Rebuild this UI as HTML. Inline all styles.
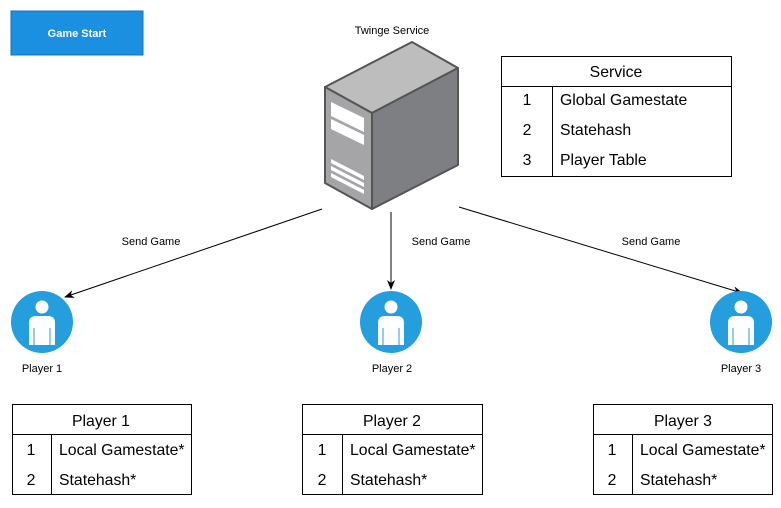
<!DOCTYPE html>
<html><head><style>
body{margin:0;background:#fff;width:781px;height:503px;overflow:hidden;font-family:"Liberation Sans",sans-serif}
</style></head><body>
<svg width="781" height="503" xmlns="http://www.w3.org/2000/svg" font-family="Liberation Sans, sans-serif">
<defs><marker id="a" markerWidth="10" markerHeight="8" refX="9" refY="4" orient="auto" markerUnits="userSpaceOnUse"><path d="M0,0 L10,4 L0,8 L3,4 Z" fill="#000"/></marker></defs>
<rect x="11" y="11" width="132" height="44" fill="#1b8fe0" stroke="#1672b8"/>
<text x="77" y="37" text-anchor="middle" font-size="11" font-weight="bold" fill="#fff">Game Start</text>
<text x="392" y="34" text-anchor="middle" font-size="11">Twinge Service</text>
<g stroke="#555" stroke-width="2" stroke-linejoin="round">
<polygon points="325,87 412,42 458,68 372,113" fill="#bdbdbd"/>
<polygon points="372,113 458,68 458,165 372,209" fill="#7e7f83"/>
<polygon points="325,87 372,113 372,209 325,183" fill="#a5a5a7"/>
</g>
<g fill="#fff">
<polygon points="331,102 364,118 364,132 331,116"/>
<polygon points="331,119 364,135 364,145 331,129"/>
<polygon points="331,159 364,176 364,180 331,163"/>
<polygon points="331,166 364,183 364,187 331,170"/>
<polygon points="331,173 364,190 364,194 331,177"/>
</g>
<g stroke="#000" stroke-width="1">
<line x1="322" y1="209" x2="65" y2="297" marker-end="url(#a)"/>
<line x1="391" y1="212" x2="391" y2="289" marker-end="url(#a)"/>
<line x1="459" y1="207" x2="742" y2="293" marker-end="url(#a)"/>
</g>
<g font-size="11" text-anchor="middle">
<rect x="118" y="233" width="66" height="14" fill="#fff"/>
<text x="151" y="245">Send Game</text>
<text x="441" y="245">Send Game</text>
<text x="651" y="245">Send Game</text>
</g>
<g id="p">
<circle cx="42" cy="322" r="31" fill="#259ede"/>
<circle cx="42" cy="307" r="6.5" fill="#fff"/>
<path d="M29,345 V323 Q29,316 36,316 H48 Q55,316 55,323 V345 Z" fill="#fff"/>
<line x1="34" y1="328" x2="34" y2="345" stroke="#259ede" stroke-width="1"/>
<line x1="50" y1="328" x2="50" y2="345" stroke="#259ede" stroke-width="1"/>
</g>
<use href="#p" x="349"/>
<use href="#p" x="699"/>
<g font-size="11" text-anchor="middle">
<text x="42" y="372">Player 1</text>
<text x="392" y="372">Player 2</text>
<text x="741" y="372">Player 3</text>
</g>
<g stroke="#000" stroke-width="1" fill="none">
<rect x="501.5" y="56.5" width="230" height="120"/><line x1="501" y1="86.5" x2="731" y2="86.5"/><line x1="552.5" y1="86" x2="552.5" y2="176"/>
<rect x="12.5" y="404.5" width="179" height="90"/><line x1="12" y1="434.5" x2="191" y2="434.5"/><line x1="51.5" y1="434" x2="51.5" y2="494"/>
<rect x="302.5" y="404.5" width="180" height="90"/><line x1="302" y1="434.5" x2="482" y2="434.5"/><line x1="342.5" y1="434" x2="342.5" y2="494"/>
<rect x="593.5" y="404.5" width="179" height="90"/><line x1="593" y1="434.5" x2="772" y2="434.5"/><line x1="632.5" y1="434" x2="632.5" y2="494"/>
</g>
<g font-size="15.8">
<text x="616" y="77" text-anchor="middle">Service</text>
<text x="527" y="105" text-anchor="middle">1</text><text x="560" y="105">Global Gamestate</text>
<text x="527" y="135" text-anchor="middle">2</text><text x="560" y="135">Statehash</text>
<text x="527" y="165" text-anchor="middle">3</text><text x="560" y="165">Player Table</text>
<text x="101" y="426" text-anchor="middle">Player 1</text>
<text x="31" y="455" text-anchor="middle">1</text><text x="59" y="455">Local Gamestate*</text>
<text x="31" y="485" text-anchor="middle">2</text><text x="59" y="485">Statehash*</text>
<text x="392" y="426" text-anchor="middle">Player 2</text>
<text x="322" y="455" text-anchor="middle">1</text><text x="350" y="455">Local Gamestate*</text>
<text x="322" y="485" text-anchor="middle">2</text><text x="350" y="485">Statehash*</text>
<text x="683" y="426" text-anchor="middle">Player 3</text>
<text x="612" y="455" text-anchor="middle">1</text><text x="640" y="455">Local Gamestate*</text>
<text x="612" y="485" text-anchor="middle">2</text><text x="640" y="485">Statehash*</text>
</g>
</svg>
</body></html>
